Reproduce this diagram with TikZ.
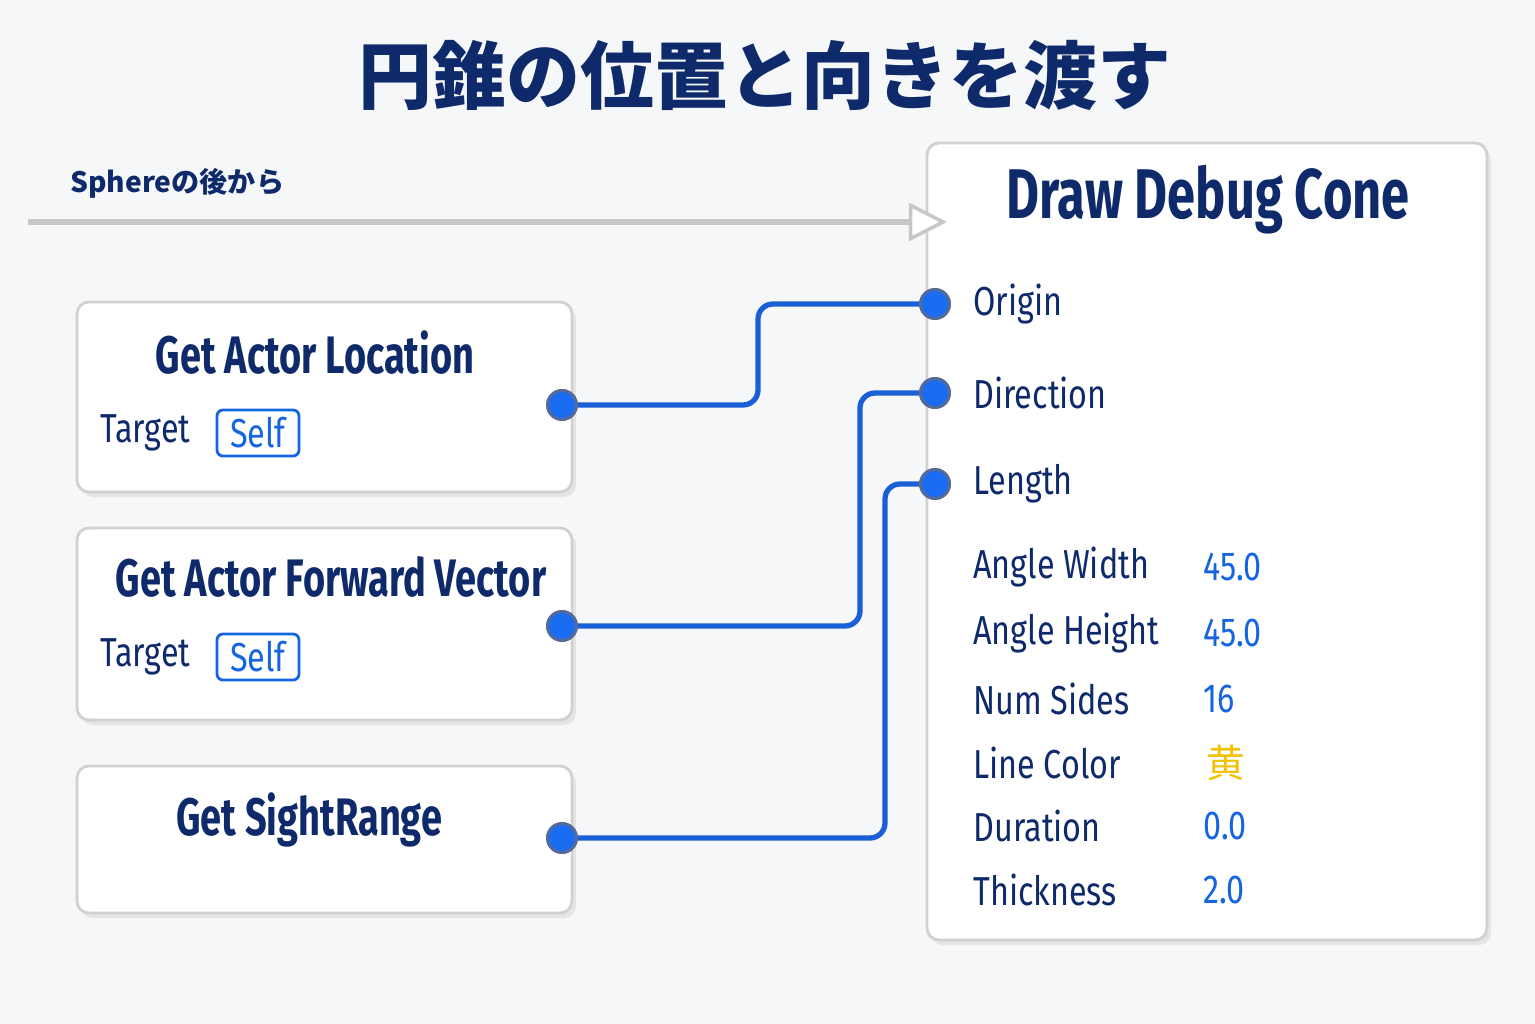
\documentclass[tikz,border=0pt]{standalone}
\usepackage{fontspec}
\usetikzlibrary{arrows.meta,shadows}
\newfontfamily\cjk{Noto Sans CJK JP}
\newfontfamily\condf[FakeStretch=0.72]{Fira Sans}
\newfontfamily\lblf[FakeStretch=0.8]{Fira Sans}
\definecolor{navy}{HTML}{0E2A6B}
\definecolor{wireblue}{HTML}{1A5FD6}
\definecolor{valblue}{HTML}{1565E0}
\definecolor{pinblue}{HTML}{1A6CF0}
\definecolor{bggray}{HTML}{F6F7F9}
\definecolor{yellowval}{HTML}{F2C200}

\tikzset{
  card/.style={draw=black!18, fill=white, rounded corners=0.12cm, line width=0.8pt,
    drop shadow={shadow xshift=0.04cm, shadow yshift=-0.05cm, opacity=0.15}},
  pin/.style={circle, draw=navy!70, fill=pinblue, line width=0.8pt, minimum size=0.29cm, inner sep=0pt},
  wire/.style={draw=wireblue, line width=1.5pt, rounded corners=0.15cm},
  head/.style={font=\condf\bfseries\fontsize{15}{18}\selectfont, text=navy},
  lbl/.style={font=\lblf\fontsize{11.5}{14}\selectfont, text=navy, anchor=west},
  val/.style={font=\lblf\fontsize{11.5}{14}\selectfont, text=valblue, anchor=west},
  selfbox/.style={draw=valblue, rounded corners=0.06cm, line width=0.8pt, fill=white,
    font=\lblf\fontsize{11.5}{14}\selectfont, text=valblue, minimum width=0.82cm, minimum height=0.46cm, inner sep=1pt}
}

\begin{document}
\begin{tikzpicture}[x=0.01cm,y=-0.01cm]
  \fill[bggray] (0,0) rectangle (1535,1024);
  \useasboundingbox (0,0) rectangle (1535,1024);

  \node[font=\cjk\bfseries\fontsize{21}{25}\selectfont, text=navy] (title) at (765,75) {円錐の位置と向きを渡す};

  % cards
  \draw[card] (77,302) rectangle (572,492);   % location
  \draw[card] (77,528) rectangle (572,720);   % forward
  \draw[card] (77,766) rectangle (572,913);   % range
  \draw[card] (927,143) rectangle (1487,940); % cone

  % exec wire
  \node[font=\cjk\bfseries\fontsize{8}{10}\selectfont, text=navy, anchor=west] (exec) at (58,183) {Sphereの後から};
  \coordinate (execstart) at (28,222);
  \coordinate (execend) at (947,222);
  \draw[draw=black!22, line width=1.6pt, -{Triangle[open, fill=white, length=0.38cm, width=0.38cm, line width=1pt]}] (execstart) -- (execend);

  \node[head] (locname) at (315,353) {Get Actor Location};
  \node[lbl, anchor=east] (loctarget) at (203,433) {Target};
  \node[selfbox] (locself) at (258,433) {Self};
  \node[head] (fwdname) at (331,577) {Get Actor Forward Vector};
  \node[lbl, anchor=east] (fwdtarget) at (203,657) {Target};
  \node[selfbox] (fwdself) at (258,657) {Self};
  \node[head] (rangename) at (309,820) {Get SightRange};
  \node[head, font=\condf\bfseries\fontsize{20}{24}\selectfont] (conename) at (1208,200) {Draw Debug Cone};

  \node[pin] (locout) at (562,405) {};
  \node[pin] (fwdout) at (562,626) {};
  \node[pin] (rangeout) at (562,838) {};
  \node[pin] (origin) at (935,304) {};
  \node[pin] (direction) at (935,393) {};
  \node[pin] (length) at (935,484) {};

  \node[lbl] (originlbl) at (961,304) {Origin};
  \node[lbl] (directionlbl) at (961,393) {Direction};
  \node[lbl] (lengthlbl) at (961,484) {Length};

  \node[lbl] (awlbl) at (961,567) {Angle Width};     \node[val] (aw) at (1191,567) {45.0};
  \node[lbl] (ahlbl) at (961,633) {Angle Height};    \node[val] (ah) at (1191,633) {45.0};
  \node[lbl] (nslbl) at (961,699) {Num Sides};       \node[val] (ns) at (1191,699) {16};
  \node[lbl] (lclbl) at (961,763) {Line Color};      \node[val, font=\cjk\fontsize{11}{14}\selectfont, text=yellowval] (lc) at (1194,763) {黄};
  \node[lbl] (dulbl) at (961,826) {Duration};        \node[val] (du) at (1191,826) {0.0};
  \node[lbl] (thlbl) at (961,890) {Thickness};       \node[val] (th) at (1191,890) {2.0};

  % data wires
  \draw[wire] (locout) -- (758,405) -- (758,304) -- (origin);
  \draw[wire] (fwdout) -- (860,626) -- (860,393) -- (direction);
  \draw[wire] (rangeout) -- (885,838) -- (885,484) -- (length);
  \node[pin] at (locout) {};   \node[pin] at (fwdout) {};   \node[pin] at (rangeout) {};
  \node[pin] at (origin) {};   \node[pin] at (direction) {};   \node[pin] at (length) {};
\end{tikzpicture}
\end{document}
